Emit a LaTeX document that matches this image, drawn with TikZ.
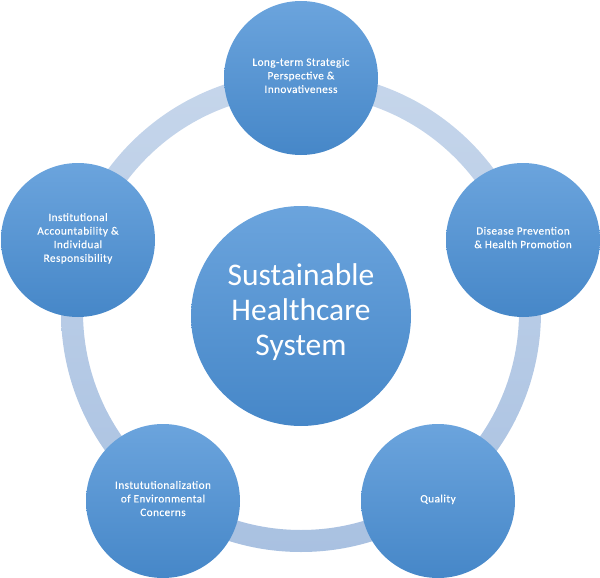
\documentclass[tikz,border=0pt]{standalone}
\usepackage{fontspec}
\setmainfont{Carlito}
\usepackage{tikz}
\tikzset{
    topic/.style={circle, minimum size=154pt, inner sep=0pt, align=center, text=white, text depth=5pt, top color=topicTop, bottom color=topicBottom, font=\fontsize{11.2}{13.6}\selectfont\addfontfeature{LetterSpace=4, FakeBold=0.4}},
    hub/.style={topic, minimum size=220pt, text depth=12pt, font=\fontsize{31.5}{35}\selectfont}
}
\definecolor{topicTop}{HTML}{6BA4DD}
\definecolor{topicBottom}{HTML}{4687C8}
\definecolor{ringTop}{HTML}{C6D6EB}
\definecolor{ringBottom}{HTML}{A9C1E1}

\begin{document}
\begin{tikzpicture}[x=1pt, y=-1pt]
    \useasboundingbox (0, 0) rectangle (600, 578);
    \path[even odd rule, top color=ringTop, bottom color=ringBottom]
    (301, 312) circle[radius=240pt]
    (301, 312) circle[radius=218pt];
    \node[hub] (system) at (301, 316) {Sustainable\\Healthcare\\System};
    \node[topic] (strategic) at (301, 78) {Long-term Strategic\\Perspective \&\\Innovativeness};
    \node[topic] (prevention) at (523, 240) {Disease Prevention\\\& Health Promotion};
    \node[topic] (quality) at (438, 501) {Quality};
    \node[topic] (environment) at (163, 501) {Instututionalization\\of Environmental\\Concerns};
    \node[topic] (accountability) at (78, 240) {Institutional\\Accountability \&\\Individual\\Responsibility};
\end{tikzpicture}
\end{document}
